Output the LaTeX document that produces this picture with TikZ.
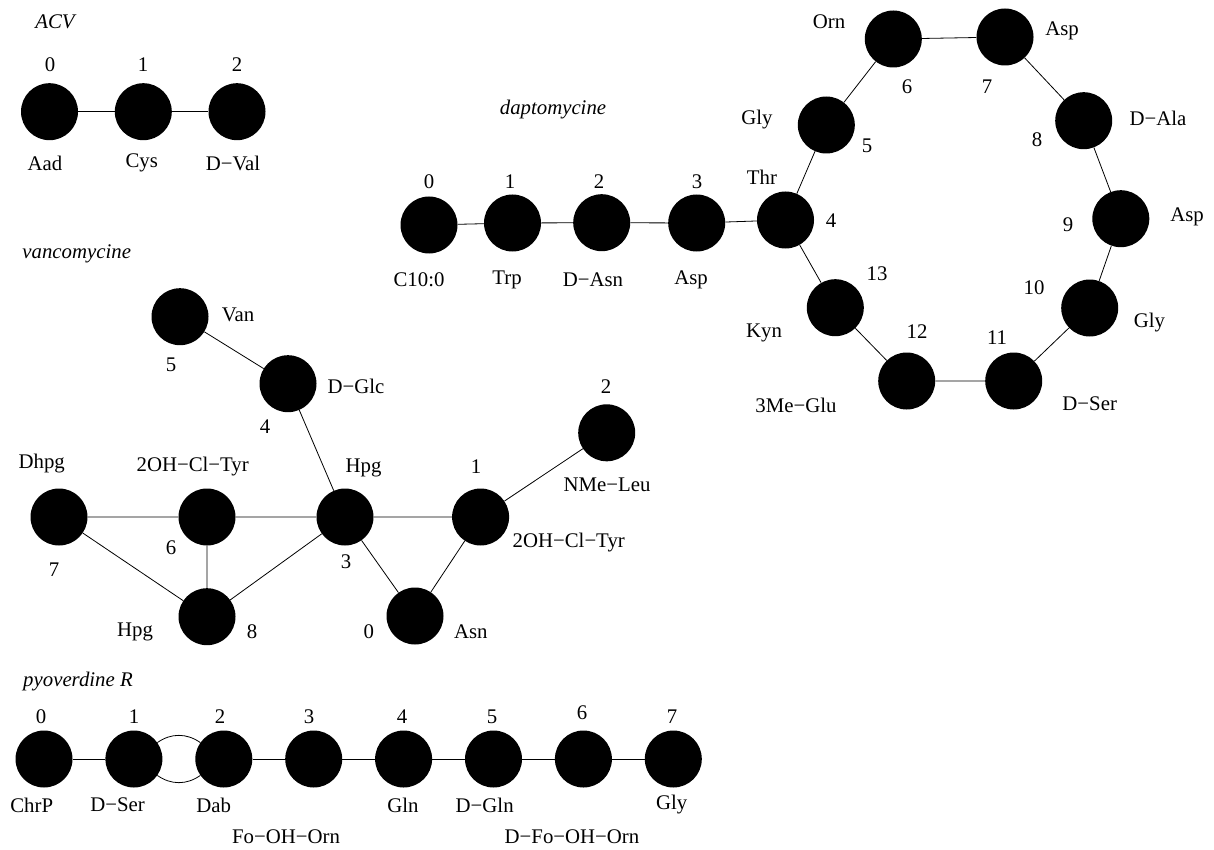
\documentclass[tikz,border=0pt]{standalone}
\usepackage{fontspec}
\setmainfont{Liberation Serif}
\begin{document}
\begin{tikzpicture}[x=1pt,y=-1pt,
  res/.style={circle,fill=black,draw=none,minimum size=57pt,inner sep=0pt},
  lab/.style={inner sep=0pt,font=\fontsize{20.8}{24}\selectfont},
  ttl/.style={inner sep=0pt,font=\fontsize{20.8}{24}\selectfont\itshape},
  edge/.style={draw=black,line width=0.8pt}]
\useasboundingbox (0,0) rectangle (1214,850);
% ---------- ACV ----------
\node[ttl] (tacv) at (55,22) {ACV};
\node[res] (a0) at (49.5,111.7) {};
\node[res] (a1) at (143.3,111.7) {};
\node[res] (a2) at (237,111.7) {};
\draw[edge] (a0) -- (a1) (a1) -- (a2);
\node[lab] (a0n) at (50,65) {0};
\node[lab] (a1n) at (143,65) {1};
\node[lab] (a2n) at (237,65) {2};
\node[lab] (a0l) at (45,163) {Aad};
\node[lab] (a1l) at (141.7,163) {Cys};
\node[lab] (a2l) at (233,163) {D−Val};
% ---------- daptomycine ----------
\node[ttl] (tdap) at (553,110) {daptomycine};
\node[res] (d0) at (429,225) {};
\node[res] (d1) at (512.5,223) {};
\node[res] (d2) at (601.7,222.7) {};
\node[res] (d3) at (696.7,223) {};
\node[res] (d4) at (785.5,220) {};
\node[res] (d5) at (826.3,125) {};
\node[res] (d6) at (893.3,39) {};
\node[res] (d7) at (1005,37) {};
\node[res] (d8) at (1083.7,120.7) {};
\node[res] (d9) at (1120.8,218.7) {};
\node[res] (d10) at (1089.7,308) {};
\node[res] (d11) at (1013.7,381) {};
\node[res] (d12) at (906.7,381) {};
\node[res] (d13) at (835.3,307.7) {};
\draw[edge] (d0) -- (d1) (d1) -- (d2) (d2) -- (d3) (d3) -- (d4)
  (d4) -- (d5) (d5) -- (d6) (d6) -- (d7) (d7) -- (d8) (d8) -- (d9)
  (d9) -- (d10) (d10) -- (d11) (d11) -- (d12) (d12) -- (d13) (d13) -- (d4);
\node[lab] (d0n) at (429,182) {0};
\node[lab] (d1n) at (510,182) {1};
\node[lab] (d2n) at (599,182) {2};
\node[lab] (d3n) at (697,182) {3};
\node[lab] (d0l) at (419,280) {C10:0};
\node[lab] (d1l) at (507,280) {Trp};
\node[lab] (d2l) at (593,280) {D−Asn};
\node[lab] (d3l) at (691,280) {Asp};
\node[lab] (d4l) at (762,177) {Thr};
\node[lab] (d4n) at (831,221) {4};
\node[lab] (d5l) at (757,120) {Gly};
\node[lab] (d5n) at (867,146) {5};
\node[lab] (d6l) at (829,22) {Orn};
\node[lab] (d6n) at (907,87) {6};
\node[lab] (d7l) at (1062,31) {Asp};
\node[lab] (d7n) at (987,87) {7};
\node[lab] (d8l) at (1158,118) {D−Ala};
\node[lab] (d8n) at (1037,140) {8};
\node[lab] (d9l) at (1187,217) {Asp};
\node[lab] (d9n) at (1068,225) {9};
\node[lab] (d10l) at (1149.5,323) {Gly};
\node[lab] (d10n) at (1034,288) {10};
\node[lab] (d11l) at (1089.7,404) {D−Ser};
\node[lab] (d11n) at (997,338) {11};
\node[lab] (d12l) at (796,405) {3Me−Glu};
\node[lab] (d12n) at (917,332) {12};
\node[lab] (d13l) at (764,333) {Kyn};
\node[lab] (d13n) at (877,274) {13};
% ---------- vancomycine ----------
\node[ttl] (tvan) at (76.7,254) {vancomycine};
\node[res] (v5) at (180,316.7) {};
\node[res] (v4) at (288,383.7) {};
\node[res] (v2) at (606.7,432.8) {};
\node[res] (v7) at (59,517) {};
\node[res] (v6) at (207,517) {};
\node[res] (v3) at (345,517) {};
\node[res] (v1) at (480.6,517) {};
\node[res] (v8) at (207,616.7) {};
\node[res] (v0) at (415,616) {};
\draw[edge] (v5) -- (v4) (v4) -- (v3) (v2) -- (v1) (v7) -- (v6) (v6) -- (v3)
  (v3) -- (v1) (v7) -- (v8) (v6) -- (v8) (v8) -- (v3) (v3) -- (v0) (v0) -- (v1);
\node[lab] (v5l) at (238,315) {Van};
\node[lab] (v5n) at (171,365) {5};
\node[lab] (v4l) at (356,386.7) {D−Glc};
\node[lab] (v4n) at (265,426.7) {4};
\node[lab] (v2n) at (606,386.7) {2};
\node[lab] (v2l) at (607,485) {NMe−Leu};
\node[lab] (v7l) at (41.7,464) {Dhpg};
\node[lab] (v7n) at (54,570) {7};
\node[lab] (v6l) at (192.7,466.7) {2OH−Cl−Tyr};
\node[lab] (v6n) at (171,548) {6};
\node[lab] (v3l) at (363.5,467.7) {Hpg};
\node[lab] (v3n) at (346,561.7) {3};
\node[lab] (v1n) at (476,466.7) {1};
\node[lab] (v1l) at (568.75,543) {2OH−Cl−Tyr};
\node[lab] (v8l) at (135,631.7) {Hpg};
\node[lab] (v8n) at (252,631.7) {8};
\node[lab] (v0n) at (368.75,631.7) {0};
\node[lab] (v0l) at (470.8,631.7) {Asn};
% ---------- pyoverdine R ----------
\node[ttl] (tpyo) at (78,682) {pyoverdine R};
\node[res] (p0) at (44,759) {};
\node[res] (p1) at (133.9,759) {};
\node[res] (p2) at (223.8,759) {};
\node[res] (p3) at (313.7,759) {};
\node[res] (p4) at (403.6,759) {};
\node[res] (p5) at (493.5,759) {};
\node[res] (p6) at (583.4,759) {};
\node[res] (p7) at (673.3,759) {};
\draw[edge] (p0) -- (p1) (p2) -- (p3) (p3) -- (p4) (p4) -- (p5) (p5) -- (p6) (p6) -- (p7);
\draw[edge] (p1) to[out=35,in=145] (p2);
\draw[edge] (p1) to[out=-35,in=-145] (p2);
\node[lab] (p0n) at (41,716.7) {0};
\node[lab] (p1n) at (134,716.7) {1};
\node[lab] (p2n) at (220,716.7) {2};
\node[lab] (p3n) at (309,716.7) {3};
\node[lab] (p4n) at (402,716.7) {4};
\node[lab] (p5n) at (492,716.7) {5};
\node[lab] (p6n) at (582,713) {6};
\node[lab] (p7n) at (672,716.7) {7};
\node[lab] (p0l) at (31.7,805) {ChrP};
\node[lab] (p1l) at (117.5,805) {D−Ser};
\node[lab] (p2l) at (213.8,805) {Dab};
\node[lab] (p3l) at (286,836.7) {Fo−OH−Orn};
\node[lab] (p4l) at (403,805) {Gln};
\node[lab] (p5l) at (484.7,805) {D−Gln};
\node[lab] (p6l) at (572,836.7) {D−Fo−OH−Orn};
\node[lab] (p7l) at (671.7,805) {Gly};
\end{tikzpicture}
\end{document}
